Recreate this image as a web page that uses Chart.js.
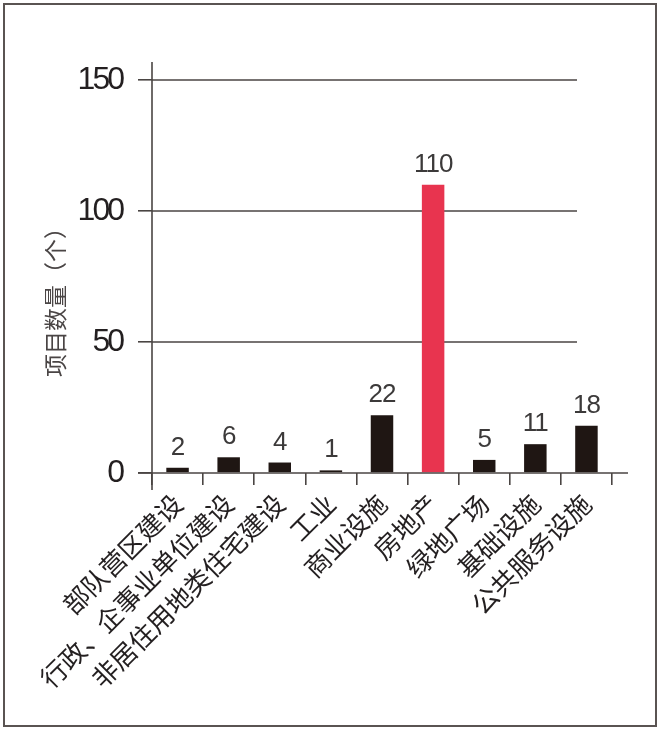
<!DOCTYPE html>
<html><head><meta charset="utf-8">
<script src="https://cdn.jsdelivr.net/npm/chart.js@4.4.1/dist/chart.umd.min.js"></script>
<style>html,body{margin:0;padding:0;background:#fff;} #wrap{width:660px;height:730px;position:relative;}</style>
</head><body><div id="wrap"><canvas id="c" width="660" height="730"></canvas></div>
<script>
// ---- data ----
const categories = ["部队营区建设","行政、企事业单位建设","非居住用地类住宅建设","工业","商业设施","房地产","绿地广场","基础设施","公共服务设施"];
const projectCounts = [2, 6, 4, 1, 22, 110, 5, 11, 18];
const yTickValues = [0, 50, 100, 150];
const highlightCategory = "房地产";
const yAxisTitle = "项目数量（个）";

// ---- styles ----
const BAR_COLOR = '#1f1613';
const HIGHLIGHT_COLOR = '#e8344f';
const LINE_COLOR = '#4a4543';
const TEXT_COLOR = '#231f20';
const LABEL_COLOR = '#3c3a3a';
const CJK = '"Noto Sans CJK SC", "Noto Sans", sans-serif';
const LAT = '"Liberation Sans", Arial, sans-serif';

const barColors = categories.map(c => c === highlightCategory ? HIGHLIGHT_COLOR : BAR_COLOR);

const deco = {
  id: 'deco',
  beforeDraw(chart) {
    const ctx = chart.ctx, ca = chart.chartArea, y = chart.scales.y;
    ctx.save();
    ctx.fillStyle = '#fff';
    ctx.fillRect(0, 0, chart.width, chart.height);
    ctx.strokeStyle = '#5a5452';
    ctx.lineWidth = 2;
    ctx.strokeRect(4, 4, 652, 722);
    // horizontal gridlines (stop short of right edge)
    ctx.strokeStyle = LINE_COLOR;
    ctx.lineWidth = 1.6;
    y.ticks.forEach(t => {
      if (t.value === 0) return;
      const py = y.getPixelForValue(t.value);
      ctx.beginPath();
      ctx.moveTo(ca.left, py);
      ctx.lineTo(ca.right - 35, py);
      ctx.stroke();
    });
    // y axis title
    ctx.translate(ca.left - 97, (ca.top + ca.bottom) / 2 + 20);
    ctx.rotate(-Math.PI / 2);
    ctx.fillStyle = '#4a4545';
    ctx.font = '23px ' + CJK;
    ctx.textAlign = 'center';
    ctx.textBaseline = 'middle';
    ctx.fillText(yAxisTitle, 0, 0);
    ctx.restore();
  },
  afterDatasetsDraw(chart) {
    const ctx = chart.ctx, ca = chart.chartArea, y = chart.scales.y;
    ctx.save();
    ctx.strokeStyle = LINE_COLOR;
    ctx.lineWidth = 1.6;
    const y0 = y.getPixelForValue(0);
    ctx.beginPath();
    ctx.moveTo(ca.left - 14, y0);
    ctx.lineTo(ca.right + 16, y0);
    ctx.stroke();
    ctx.beginPath();
    ctx.moveTo(ca.left, ca.top - 18);
    ctx.lineTo(ca.left, y0 + 17);
    ctx.stroke();
    // value labels
    const meta = chart.getDatasetMeta(0);
    ctx.fillStyle = LABEL_COLOR;
    ctx.font = '26px ' + LAT;
    ctx.letterSpacing = '-1px';
    ctx.textAlign = 'center';
    ctx.textBaseline = 'alphabetic';
    meta.data.forEach((bar, i) => {
      ctx.fillText(String(projectCounts[i]), bar.x, bar.y - 13);
    });
    ctx.restore();
  },
  afterLayout(chart) {
    const s = chart.scales.y;
    if (s && !s._wrapped) {
      const orig = s.drawLabels;
      s.drawLabels = function (area) {
        this.ctx.save();
        this.ctx.letterSpacing = '-3px';
        orig.call(this, area);
        this.ctx.restore();
      };
      s._wrapped = true;
    }
  }
};

new Chart(document.getElementById('c'), {
  type: 'bar',
  data: {
    labels: categories,
    datasets: [{
      data: projectCounts,
      backgroundColor: barColors,
      borderWidth: 0,
      barPercentage: 0.44,
      categoryPercentage: 1.0
    }]
  },
  options: {
    responsive: false,
    animation: false,
    devicePixelRatio: 1,
    layout: { padding: { top: 80, right: 48, left: 0, bottom: 0 } },
    plugins: { legend: { display: false }, tooltip: { enabled: false } },
    scales: {
      x: {
        afterFit(scale) { scale.height = 257; },
        border: { display: false },
        grid: { offset: true, drawOnChartArea: false, drawTicks: true, tickLength: 12, color: LINE_COLOR, lineWidth: 1.6 },
        ticks: {
          autoSkip: false, minRotation: 45, maxRotation: 45, padding: 3,
          color: TEXT_COLOR, font: { family: CJK, size: 26 }
        }
      },
      y: {
        min: 0, max: 150,
        afterFit(scale) { scale.width = 152; },
        afterBuildTicks(scale) { scale.ticks = yTickValues.map(v => ({ value: v })); },
        border: { display: false },
        grid: { drawOnChartArea: false, drawTicks: true, tickLength: 14, color: LINE_COLOR, lineWidth: 1.6 },
        ticks: { padding: 16, color: TEXT_COLOR, font: { family: LAT, size: 32 } }
      }
    }
  },
  plugins: [deco]
});
</script>
</body></html>
